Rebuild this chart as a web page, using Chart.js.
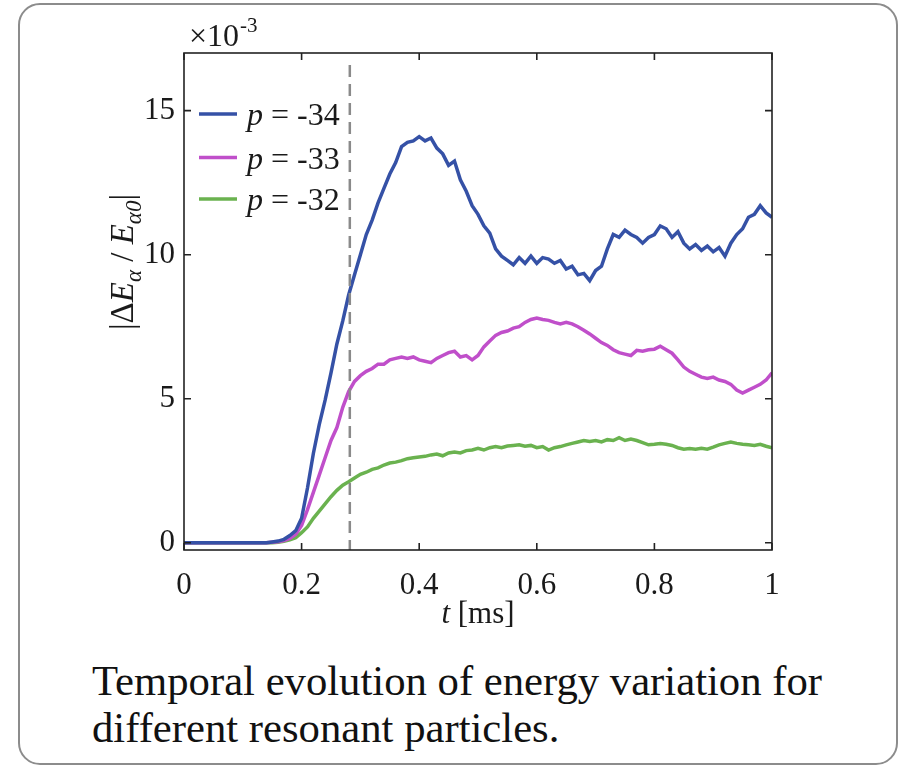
<!DOCTYPE html>
<html>
<head>
<meta charset="utf-8">
<script src="https://cdn.jsdelivr.net/npm/chart.js@4.4.0/dist/chart.umd.min.js"></script>
<style>
html, body { margin: 0; padding: 0; background: #fff; }
body { width: 904px; height: 766px; position: relative; overflow: hidden; font-family: "Liberation Serif", serif; }
.card { position: absolute; left: 18px; top: 3px; width: 876px; height: 758px; border: 2px solid #8c8c8c; border-radius: 22px; }
#chart { position: absolute; left: 0; top: 0; }
.caption { position: absolute; left: 92px; top: 657px; font-size: 42.7px; line-height: 47px; color: #111; }
</style>
</head>
<body>
<div class="card"></div>
<canvas id="chart" width="904" height="640"></canvas>
<div class="caption">Temporal evolution of energy variation for<br>different resonant particles.</div>
<script>
// Thời gian (ms)
const time = [0, 0.01, 0.02, 0.03, 0.04, 0.05, 0.06, 0.07, 0.08, 0.09,
    0.10, 0.11, 0.12, 0.13, 0.14, 0.15, 0.16, 0.17, 0.18, 0.19,
    0.20, 0.21, 0.22, 0.23, 0.24, 0.25, 0.26, 0.27, 0.28, 0.29,
    0.30, 0.31, 0.32, 0.33, 0.34, 0.35, 0.36, 0.37, 0.38, 0.39,
    0.40, 0.41, 0.42, 0.43, 0.44, 0.45, 0.46, 0.47, 0.48, 0.49,
    0.50, 0.51, 0.52, 0.53, 0.54, 0.55, 0.56, 0.57, 0.58, 0.59,
    0.60, 0.61, 0.62, 0.63, 0.64, 0.65, 0.66, 0.67, 0.68, 0.69,
    0.70, 0.71, 0.72, 0.73, 0.74, 0.75, 0.76, 0.77, 0.78, 0.79,
    0.80, 0.81, 0.82, 0.83, 0.84, 0.85, 0.86, 0.87, 0.88, 0.89,
    0.90, 0.91, 0.92, 0.93, 0.94, 0.95, 0.96, 0.97, 0.98, 0.99, 1.00];

// |dE/E0| x 1e-3 cho từng p
const p34 = [0, 0, 0, 0, 0, 0, 0, 0, 0, 0,
    0, 0, 0, 0, 0, 0.03, 0.06, 0.12, 0.25, 0.42,
    0.85, 1.9, 3.1, 4.1, 4.95, 5.9, 6.9, 7.7, 8.6, 9.3,
    10.0, 10.7, 11.2, 11.8, 12.3, 12.8, 13.2, 13.75, 13.9, 13.95,
    14.1, 13.95, 14.05, 13.7, 13.5, 13.1, 13.25, 12.6, 12.2, 11.7,
    11.4, 11.0, 10.75, 10.2, 9.95, 9.8, 9.65, 9.9, 9.7, 9.95,
    9.7, 9.9, 9.85, 9.7, 9.8, 9.5, 9.6, 9.3, 9.35, 9.1,
    9.45, 9.6, 10.2, 10.7, 10.6, 10.85, 10.7, 10.6, 10.4, 10.6,
    10.7, 11.0, 10.9, 10.6, 10.8, 10.4, 10.2, 10.35, 10.15, 10.3,
    10.1, 10.25, 9.95, 10.4, 10.7, 10.9, 11.3, 11.4, 11.7, 11.45, 11.3];

const p33 = [0, 0, 0, 0, 0, 0, 0, 0, 0, 0,
    0, 0, 0, 0, 0, 0.02, 0.04, 0.08, 0.15, 0.3,
    0.6, 1.15, 1.75, 2.35, 2.95, 3.55, 4.0, 4.7, 5.25, 5.6,
    5.8, 5.95, 6.05, 6.2, 6.2, 6.35, 6.4, 6.45, 6.4, 6.45,
    6.35, 6.3, 6.25, 6.4, 6.5, 6.6, 6.65, 6.45, 6.5, 6.35,
    6.5, 6.8, 7.0, 7.2, 7.3, 7.35, 7.45, 7.5, 7.65, 7.75,
    7.8, 7.75, 7.72, 7.65, 7.6, 7.65, 7.6, 7.5, 7.38, 7.25,
    7.1, 6.95, 6.85, 6.7, 6.6, 6.55, 6.5, 6.68, 6.65, 6.7,
    6.72, 6.82, 6.7, 6.58, 6.35, 6.1, 5.95, 5.85, 5.75, 5.7,
    5.75, 5.65, 5.6, 5.5, 5.3, 5.2, 5.3, 5.4, 5.5, 5.65, 5.9];

const p32 = [0, 0, 0, 0, 0, 0, 0, 0, 0, 0,
    0, 0, 0, 0, 0, 0, 0.02, 0.05, 0.1, 0.18,
    0.35, 0.55, 0.85, 1.1, 1.35, 1.6, 1.82, 2.0, 2.12, 2.25,
    2.38, 2.45, 2.55, 2.6, 2.7, 2.77, 2.8, 2.85, 2.92, 2.95,
    2.98, 3.0, 3.05, 3.08, 3.02, 3.12, 3.15, 3.12, 3.2, 3.22,
    3.28, 3.22, 3.3, 3.34, 3.3, 3.36, 3.38, 3.4, 3.35, 3.38,
    3.3, 3.34, 3.22, 3.3, 3.34, 3.4, 3.45, 3.5, 3.55, 3.52,
    3.55, 3.5, 3.58, 3.55, 3.65, 3.55, 3.6, 3.55, 3.48, 3.4,
    3.42, 3.45, 3.42, 3.38, 3.3, 3.25, 3.27, 3.25, 3.28, 3.25,
    3.32, 3.4, 3.45, 3.5, 3.45, 3.42, 3.4, 3.38, 3.42, 3.35, 3.3];

const seriesNames = ['-34', '-33', '-32'];
const seriesColors = ['#3551a6', '#c04fca', '#6ab24f'];
const xTicks = [0, 0.2, 0.4, 0.6, 0.8, 1];
const yTicks = [0, 5, 10, 15];
const markerT = 0.282; // vạch đứt nét

const FONT = '"Liberation Serif", "Times New Roman", serif';
const INK = '#1a1a1a';

function toPoints(values) {
    return time.map((t, i) => ({ x: t, y: values[i] }));
}

// Vẽ khung, vạch chia, chú giải và nhãn trục
const decorPlugin = {
    id: 'decor',
    afterDatasetsDraw(chart) {
        const { ctx, chartArea: a, scales: { x, y } } = chart;
        ctx.save();

        // đường đứt nét
        const mx = x.getPixelForValue(markerT);
        ctx.strokeStyle = '#8a8a8a';
        ctx.lineWidth = 2.5;
        ctx.setLineDash([12, 7]);
        ctx.beginPath();
        ctx.moveTo(mx, a.top + 12);
        ctx.lineTo(mx, a.bottom);
        ctx.stroke();
        ctx.setLineDash([]);

        // khung
        ctx.strokeStyle = '#222';
        ctx.lineWidth = 1.6;
        ctx.strokeRect(a.left, a.top, a.right - a.left, a.bottom - a.top);
        ctx.beginPath();
        xTicks.forEach(v => {
            const px = x.getPixelForValue(v);
            ctx.moveTo(px, a.bottom); ctx.lineTo(px, a.bottom - 7);
            ctx.moveTo(px, a.top); ctx.lineTo(px, a.top + 7);
        });
        yTicks.forEach(v => {
            const py = y.getPixelForValue(v);
            ctx.moveTo(a.left, py); ctx.lineTo(a.left + 7, py);
            ctx.moveTo(a.right, py); ctx.lineTo(a.right - 7, py);
        });
        ctx.stroke();

        // chú giải
        ctx.fillStyle = INK;
        ctx.textBaseline = 'alphabetic';
        ctx.textAlign = 'left';
        const rows = [114, 157.5, 199];
        seriesNames.forEach((name, i) => {
            const ly = rows[i];
            ctx.strokeStyle = seriesColors[i];
            ctx.lineWidth = 3.5;
            ctx.beginPath();
            ctx.moveTo(199, ly); ctx.lineTo(237, ly);
            ctx.stroke();
            ctx.font = 'italic 32px ' + FONT;
            ctx.fillText('p', 247, ly + 11);
            const w = ctx.measureText('p').width;
            ctx.font = '32px ' + FONT;
            ctx.fillText(' = ' + name, 247 + w, ly + 11);
        });

        // x10^-3
        ctx.font = '32px ' + FONT;
        ctx.fillText('\u00d710', 189, 46);
        const ew = ctx.measureText('\u00d710').width;
        ctx.font = '21px ' + FONT;
        ctx.fillText('-3', 189 + ew + 1, 32);

        // nhãn trục x
        ctx.font = 'italic 31px ' + FONT;
        const tw = ctx.measureText('t').width;
        ctx.font = '31px ' + FONT;
        const rw = ctx.measureText(' [ms]').width;
        let sx = (a.left + a.right) / 2 - (tw + rw) / 2;
        ctx.font = 'italic 31px ' + FONT;
        ctx.fillText('t', sx, 623);
        ctx.font = '31px ' + FONT;
        ctx.fillText(' [ms]', sx + tw, 623);

        // nhãn trục y
        const parts = [
            ['|\u0394', '33px', 0],
            ['E', 'italic 33px', 0],
            ['\u03b1', 'italic 23px', 8],
            [' / ', '33px', 0],
            ['E', 'italic 33px', 0],
            ['\u03b10', 'italic 23px', 8],
            ['|', '33px', 0]
        ];
        let total = 0;
        parts.forEach(p => { ctx.font = p[1] + ' ' + FONT; total += ctx.measureText(p[0]).width; });
        ctx.translate(133, 262);
        ctx.rotate(-Math.PI / 2);
        let cx = -total / 2;
        parts.forEach(p => {
            ctx.font = p[1] + ' ' + FONT;
            ctx.fillText(p[0], cx, p[2]);
            cx += ctx.measureText(p[0]).width;
        });
        ctx.restore();
    }
};

new Chart(document.getElementById('chart'), {
    type: 'line',
    data: {
        datasets: [p34, p33, p32].map((vals, i) => ({
            label: 'p = ' + seriesNames[i],
            data: toPoints(vals),
            borderColor: seriesColors[i],
            borderWidth: 3.5,
            pointRadius: 0,
            tension: 0,
            fill: false
        }))
    },
    options: {
        responsive: false,
        animation: false,
        layout: { padding: { left: 0, right: 132, top: 53, bottom: 0 } },
        plugins: { legend: { display: false }, tooltip: { enabled: false } },
        scales: {
            x: {
                type: 'linear',
                min: 0,
                max: 1,
                afterBuildTicks: s => { s.ticks = xTicks.map(v => ({ value: v })); },
                afterFit: s => { s.height = 90; },
                grid: { display: false },
                border: { display: false },
                ticks: {
                    font: { family: FONT, size: 31 },
                    color: INK,
                    padding: 9,
                    maxRotation: 0,
                    callback: v => String(+v.toFixed(1))
                }
            },
            y: {
                min: -0.25,
                max: 17,
                afterBuildTicks: s => { s.ticks = yTicks.map(v => ({ value: v })); },
                afterFit: s => { s.width = 184; },
                grid: { display: false },
                border: { display: false },
                ticks: {
                    font: { family: FONT, size: 31 },
                    color: INK,
                    padding: 1,
                    callback: v => String(v)
                }
            }
        }
    },
    plugins: [decorPlugin]
});
</script>
</body>
</html>
